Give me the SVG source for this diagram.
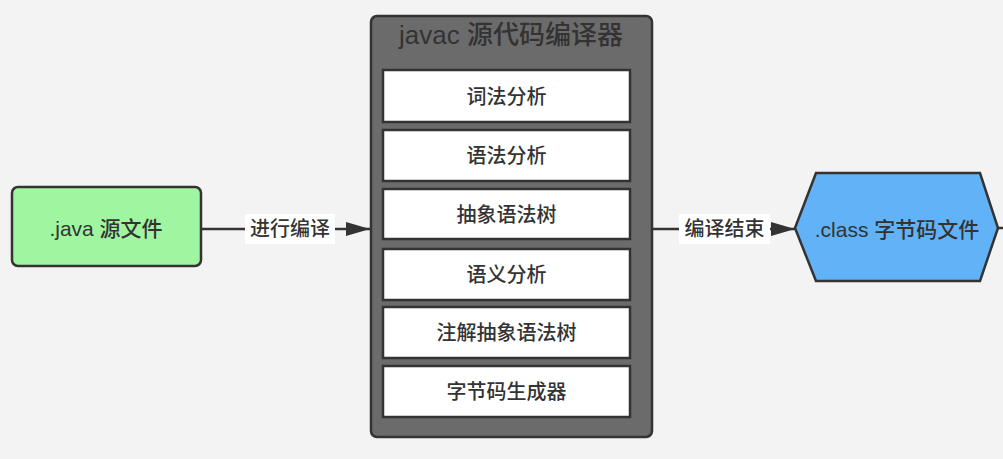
<svg xmlns="http://www.w3.org/2000/svg" width="1003" height="459" viewBox="0 0 1003 459">
<defs>
<style>
.t{font-family:"Liberation Sans","Noto Sans CJK SC",sans-serif;fill:#333;text-anchor:middle;dominant-baseline:central;font-weight:500}
.step{fill:#fff;stroke:#333;stroke-width:2.5}
.st{font-size:20px}
.ln{stroke:#333;stroke-width:2.5;fill:none}
.lab{fill:#fff}
</style>
<marker id="ah" viewBox="0 0 24 14" refX="24" refY="7" markerWidth="24" markerHeight="14" markerUnits="userSpaceOnUse" orient="auto">
<path d="M0,0 L24,7 L0,14 Z" fill="#333"/>
</marker>
</defs>
<rect width="1003" height="459" fill="#f3f3f3"/>
<g id="connectors">
<line class="ln" x1="202" y1="229" x2="370" y2="229" marker-end="url(#ah)"/>
<rect class="lab" x="245" y="214" width="90" height="30"/>
<text class="t" x="290" y="229" font-size="20">进行编译</text>
<line class="ln" x1="653" y1="229" x2="795" y2="229" marker-end="url(#ah)"/>
<rect class="lab" x="679" y="214" width="91" height="30"/>
<text class="t" x="724.5" y="229" font-size="20">编译结束</text>
<line class="ln" x1="998" y1="228" x2="1003" y2="228"/>
</g>
<g id="java-source">
<rect x="12" y="187" width="189" height="79" rx="6" fill="#a0f5a0" stroke="#333" stroke-width="2.5"/>
<text class="t" x="106" y="228" font-size="21">.java 源文件</text>
</g>
<g id="javac">
<rect x="371" y="16" width="281" height="421" rx="6" fill="#6b6b6b" stroke="#333" stroke-width="2.5"/>
<text class="t" x="511" y="35" font-size="26">javac 源代码编译器</text>
<g id="step1"><rect class="step" x="383" y="70" width="247" height="52"/><text class="t st" x="506.5" y="97">词法分析</text></g>
<g id="step2"><rect class="step" x="383" y="130" width="247" height="51"/><text class="t st" x="506.5" y="156">语法分析</text></g>
<g id="step3"><rect class="step" x="383" y="189" width="247" height="50"/><text class="t st" x="506.5" y="215">抽象语法树</text></g>
<g id="step4"><rect class="step" x="383" y="249" width="247" height="51"/><text class="t st" x="506.5" y="275">语义分析</text></g>
<g id="step5"><rect class="step" x="383" y="307" width="247" height="51"/><text class="t st" x="506.5" y="333">注解抽象语法树</text></g>
<g id="step6"><rect class="step" x="383" y="366" width="247" height="51"/><text class="t st" x="506.5" y="392">字节码生成器</text></g>
</g>
<g id="class-file">
<polygon points="795,228 816,173 980,173 998,228 980,281 816,281" fill="#62b2f8" stroke="#333" stroke-width="2.5" stroke-linejoin="miter"/>
<text class="t" x="897" y="229" font-size="21">.class 字节码文件</text>
</g>
</svg>
